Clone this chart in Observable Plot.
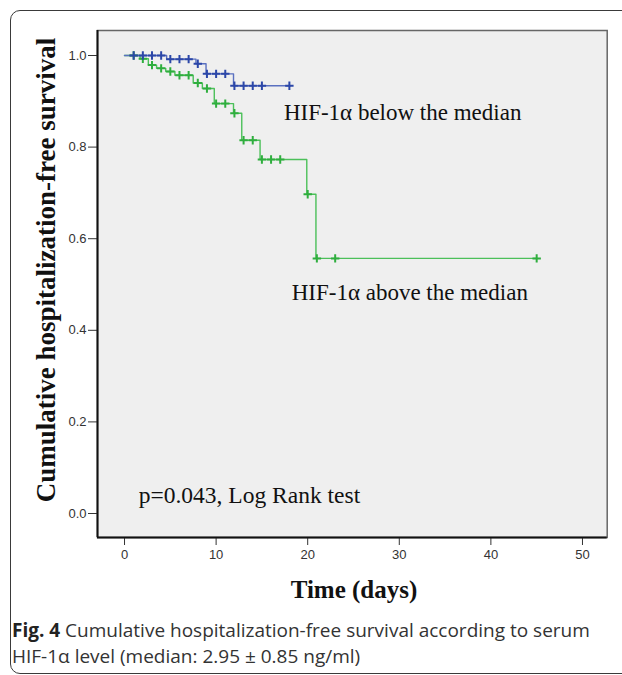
<!DOCTYPE html>
<html>
<head>
<meta charset="utf-8">
<script src="https://cdn.jsdelivr.net/npm/d3@7"></script>
<script src="https://cdn.jsdelivr.net/npm/@observablehq/plot@0.6"></script>
<style>
  html, body { margin: 0; padding: 0; background: #fff; width: 622px; height: 675px; overflow: hidden; }
  #box { position: absolute; left: 10px; top: 10px; width: 700px; height: 664px; border: 1.5px solid #3a3a3a; border-radius: 10px; box-sizing: border-box; }
  #chart { position: absolute; left: 0; top: 0; }
  .ylab { position: absolute; left: 46px; top: 270px; transform: translate(-50%, -50%) rotate(-90deg); white-space: nowrap;
          font-family: "Liberation Serif", "Times New Roman", serif; font-weight: bold; font-size: 27px; color: #111; }
  .xlab { position: absolute; left: 354px; top: 590px; transform: translate(-50%, -50%); white-space: nowrap;
          font-family: "Liberation Serif", "Times New Roman", serif; font-weight: bold; font-size: 25px; color: #111; }
  .cap { position: absolute; left: 12px; top: 617px; width: 610px; white-space: nowrap; font-family: "Open Sans", sans-serif; font-size: 19px; line-height: 26px; color: #333; }
  .cap b { color: #222; }
</style>
</head>
<body>
<div id="box"></div>
<div id="chart"></div>
<div class="ylab">Cumulative hospitalization-free survival</div>
<div class="xlab">Time (days)</div>
<div class="cap"><b>Fig. 4</b> Cumulative hospitalization-free survival according to serum<br>HIF-1α level (median: 2.95 ± 0.85 ng/ml)</div>
<script>
// ---- data ----
const blueTimes = [0, 4.6, 7.8, 8.9, 11.9, 18.1];
const blueSurv  = [1.0, 0.992, 0.982, 0.960, 0.934, 0.934];
const blueCensor = [1, 2, 3, 4, 5, 6, 7, 8, 9, 10, 11, 12, 13, 14, 15, 18];

const greenTimes = [0, 1.7, 2.6, 3.5, 4.5, 5.5, 7.5, 8.5, 9.8, 11.9, 12.8, 14.8, 19.9, 20.9, 45];
const greenSurv  = [1.0, 0.993, 0.979, 0.972, 0.965, 0.957, 0.940, 0.928, 0.895, 0.874, 0.815, 0.773, 0.697, 0.557, 0.557];
const greenCensor = [1, 2, 3, 4, 5, 6, 7, 8, 9, 10, 11, 12, 13, 14, 15, 16, 17, 20, 21, 23, 45];

const xTicks = [0, 10, 20, 30, 40, 50];
const yTicks = [0, 0.2, 0.4, 0.6, 0.8, 1.0];

// ---- build tables ----
const steps = (T, S) => T.map((t, i) => ({t, s: S[i]}));
const stepAt = (T, S, t) => { let v = S[0]; for (let i = 0; i < T.length; i++) if (T[i] <= t) v = S[i]; return v; };
const blueLine = steps(blueTimes, blueSurv);
const greenLine = steps(greenTimes, greenSurv);
const blueMarks = blueCensor.map(t => ({t, s: stepAt(blueTimes, blueSurv, t)}));
const greenMarks = greenCensor.map(t => ({t, s: stepAt(greenTimes, greenSurv, t)}));

const plus = { draw(ctx, size) { const h = Math.sqrt(size / Math.PI); ctx.moveTo(-h, 0); ctx.lineTo(h, 0); ctx.moveTo(0, -h); ctx.lineTo(0, h); } };

const xDom = [-2.95, 52.7], yDom = [-0.0524, 1.0546];
const serif = "Liberation Serif, Times New Roman, serif";

const chart = Plot.plot({
  width: 622, height: 600,
  marginLeft: 97, marginRight: 15.3, marginTop: 30, marginBottom: 63,
  style: { fontFamily: "Liberation Sans, Arial, sans-serif", fontSize: "13px", color: "#333", background: "transparent" },
  x: { domain: xDom, ticks: xTicks, tickSize: 8, tickPadding: 4, label: null },
  y: { domain: yDom, ticks: yTicks, tickSize: 9, tickPadding: 2, tickFormat: d3.format(".1f"), label: null },
  marks: [
    Plot.frame({ fill: "#efefef", stroke: "#666", strokeWidth: 1.5 }),
    Plot.ruleX([xDom[0]], { stroke: "#111", strokeWidth: 2 }),
    Plot.ruleY([yDom[0]], { stroke: "#111", strokeWidth: 2 }),
    Plot.line(greenLine, { x: "t", y: "s", curve: "step-after", stroke: "#4cc05a", strokeWidth: 1.4 }),
    Plot.line(blueLine, { x: "t", y: "s", curve: "step-after", stroke: "#5a70c0", strokeWidth: 1.4 }),
    Plot.dot(greenMarks, { x: "t", y: "s", symbol: plus, r: 4.2, stroke: "#2fae3e", strokeWidth: 2, fill: "none" }),
    Plot.dot(blueMarks, { x: "t", y: "s", symbol: plus, r: 4.2, stroke: "#2c47a8", strokeWidth: 2, fill: "none" }),
    Plot.text(["HIF-1α below the median"], { x: 17.4, y: 0.876, textAnchor: "start", fontFamily: serif, fontSize: 23, fill: "#111" }),
    Plot.text(["HIF-1α above the median"], { x: 18.25, y: 0.483, textAnchor: "start", fontFamily: serif, fontSize: 23, fill: "#111" }),
    Plot.text(["p=0.043, Log Rank test"], { x: 1.55, y: 0.039, textAnchor: "start", fontFamily: serif, fontSize: 23.5, fill: "#111" })
  ]
});
document.getElementById("chart").appendChild(chart);
</script>
</body>
</html>
